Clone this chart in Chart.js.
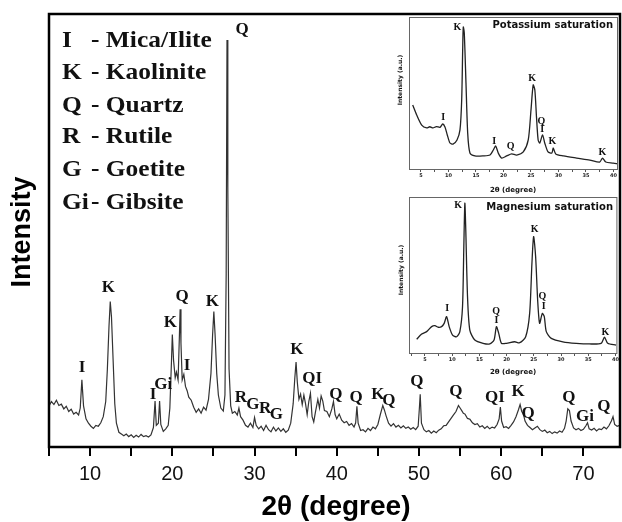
<!DOCTYPE html>
<html><head><meta charset="utf-8">
<script src="https://cdn.jsdelivr.net/npm/chart.js@4/dist/chart.umd.min.js"></script>
<style>
html,body{margin:0;padding:0;background:#fff;}
#wrap{position:relative;width:622px;height:522px;overflow:hidden;}
canvas{position:absolute;}
</style></head>
<body><div id="wrap">
<canvas id="main" width="622" height="522" style="left:0;top:0;width:622px;height:522px"></canvas>
<canvas id="ins1" width="225" height="180" style="left:395px;top:15px;width:225px;height:180px"></canvas>
<canvas id="ins2" width="225" height="185" style="left:395px;top:195px;width:225px;height:185px"></canvas>
</div>
<script>
// ---------- main pattern ----------
const mainTwoTheta = [5.0,5.3,5.6,5.9,6.2,6.5,6.8,7.1,7.4,7.7,8.0,8.3,8.6,8.8,9.0,9.2,9.5,9.8,10.1,10.4,10.7,11.0,11.3,11.6,11.9,12.1,12.3,12.45,12.6,12.8,13.0,13.2,13.5,13.8,14.1,14.4,14.7,15.0,15.3,15.6,15.9,16.2,16.5,16.8,17.1,17.4,17.7,17.9,18.05,18.3,18.45,18.6,18.9,19.2,19.5,19.7,19.9,20.0,20.15,20.35,20.5,20.7,20.85,20.95,21.05,21.2,21.4,21.6,21.8,22.0,22.3,22.6,22.9,23.2,23.5,23.8,24.1,24.4,24.7,24.9,25.05,25.2,25.4,25.6,25.9,26.2,26.4,26.55,26.65,26.75,26.9,27.1,27.3,27.6,27.9,28.1,28.3,28.6,28.9,29.2,29.5,29.8,30.0,30.2,30.5,30.8,31.1,31.4,31.7,32.0,32.3,32.6,32.9,33.2,33.5,33.8,34.1,34.4,34.7,34.9,35.05,35.2,35.4,35.6,35.8,36.0,36.2,36.4,36.6,36.8,37.0,37.2,37.4,37.7,37.9,38.1,38.3,38.5,38.8,39.1,39.4,39.6,39.8,40.0,40.3,40.6,40.9,41.2,41.5,41.8,42.1,42.3,42.45,42.6,42.9,43.2,43.5,43.8,44.1,44.4,44.7,45.0,45.3,45.6,45.8,46.0,46.3,46.6,46.9,47.2,47.5,47.8,48.1,48.4,48.7,49.0,49.3,49.6,49.9,50.05,50.15,50.3,50.6,50.9,51.2,51.5,51.8,52.1,52.4,52.7,53.0,53.3,53.6,53.9,54.2,54.5,54.8,55.0,55.2,55.4,55.6,55.9,56.2,56.5,56.8,57.1,57.4,57.7,58.0,58.3,58.6,58.9,59.2,59.5,59.75,59.9,60.05,60.3,60.6,60.9,61.2,61.5,61.8,62.1,62.3,62.5,62.7,62.9,63.2,63.5,63.8,64.1,64.4,64.7,65.0,65.3,65.6,65.9,66.2,66.5,66.8,67.1,67.4,67.7,67.9,68.1,68.3,68.5,68.8,69.1,69.4,69.7,70.0,70.3,70.5,70.7,71.0,71.3,71.6,71.9,72.2,72.5,72.8,73.1,73.4,73.6,73.8,74.1,74.4];
const mainIntensity = [9.5,10.5,9.8,10.8,9.6,9.9,8.8,9.4,8.2,8.7,7.6,8.0,7.4,9.0,15.5,9.5,6.5,5.5,4.8,4.3,5.0,4.8,5.6,7.0,10.5,18,28,33.6,30,20,10,5.5,3.4,3.0,2.6,3.0,2.4,2.8,2.2,2.7,2.3,2.9,2.4,2.6,2.3,2.8,4.5,10.6,5.0,5.5,10.6,5.2,3.6,4.2,5.0,9,20,26,20,16,17.3,15.5,25,31.8,24,15.5,16.8,14,13.0,11.5,10.8,9.2,8.0,8.8,7.8,9.2,8.5,11,17,26,31.3,26,17,12,9.0,8.3,12,40,94,60,18,9.5,7.8,8.2,7.4,9.0,7.0,6.2,5.0,4.6,5.5,4.5,6.8,5.0,4.2,4.8,3.8,5.0,4.0,3.5,4.6,3.7,4.4,3.6,4.2,3.4,3.9,5.5,10,16,19.6,15,11,12.2,9.8,12.0,10.0,7.5,10.5,12.4,7.0,5.8,8.0,11.0,9.0,11.8,10.6,8.4,8.2,7.0,8.8,10.5,7.5,6.5,7.6,6.2,5.6,5.9,5.0,5.4,4.6,5.6,9.4,5.5,3.8,4.0,3.5,4.3,3.8,4.6,4.2,5.2,7.5,9.6,8.5,7.2,5.5,4.8,5.4,4.6,5.0,4.4,4.9,4.3,4.6,4.1,4.5,4.0,4.8,9,12.2,5.5,4.0,3.5,3.8,3.2,3.7,3.3,3.9,4.2,4.9,5.0,5.8,6.6,7.4,8.2,9.6,9.0,8.4,7.8,7.6,6.6,6.4,5.6,5.2,5.4,4.6,4.9,4.3,4.8,4.2,4.6,4.4,5.2,6.5,9.2,6.0,4.5,4.7,4.3,5.0,5.8,7.0,8.6,9.8,8.2,7.6,6.0,5.0,4.5,4.0,4.4,4.8,4.0,3.6,3.9,3.3,3.6,3.1,3.5,3.2,3.7,3.4,4.3,6.0,8.8,8.4,6.0,4.4,4.0,4.3,3.8,4.1,4.9,5.6,4.2,3.9,4.3,3.7,4.2,4.0,4.6,4.2,4.9,6.0,7.0,5.2,4.8,5.0];

const mainPeakText = ['K','I','I','Gi','K','Q','I','K','Q','R','G','R','G','K','QI','Q','Q','K','Q','Q','Q','QI','K','Q','Q','Gi','Q'];
const mainPeakX    = [12.23,9.03,17.66,18.9,19.76,21.2,21.8,24.87,28.5,28.35,29.8,31.3,32.65,35.16,37.0,39.9,42.35,45.0,46.35,49.75,54.5,59.25,62.05,63.26,68.24,70.2,72.5];
const mainPeakY    = [36.9,18.4,12.2,14.3,28.8,34.8,18.9,33.6,96.5,11.5,9.9,8.8,7.4,22.4,15.7,12.2,11.5,12.2,10.6,15.2,12.9,11.5,12.7,7.6,11.5,7.1,9.4];

const legendAbbr = ['I','K','Q','R','G','Gi'];
const legendName = ['Mica/Ilite','Kaolinite','Quartz','Rutile','Goetite','Gibsite'];

// ---------- inset: potassium saturation ----------
const kTwoTheta = [3.49,4.22,5.13,6.04,6.6,7.18,7.8,8.45,8.95,9.36,9.78,10.27,10.82,11.55,12.09,12.4,12.58,12.69,12.87,13.18,13.49,13.9,14.8,16.3,17.55,18.15,18.58,19.05,19.67,20.58,21.49,22.4,23.6,24.5,25.0,25.4,25.7,26.0,26.3,26.6,27.1,27.5,28.1,28.8,29.05,29.5,30.9,33.3,35.7,37.5,38.0,38.6,39.96,40.8];
const kIntensity = [42.1,35.5,28.9,27.0,27.8,27.0,27.9,27.4,29.6,27.6,22.4,17.1,16.4,19.1,25.7,45.4,78.3,93.4,89.5,56.6,23.7,10.5,8.6,8.6,9.2,12.5,15.1,10.5,7.2,8.6,9.9,9.2,11.2,19.1,38.8,55.3,52.0,34.2,19.1,17.1,22.4,17.1,11.2,10.5,13.8,9.9,8.6,7.2,5.9,4.6,7.2,4.6,3.9,3.3];
const kPeakText = ['K','I','I','Q','K','Q','I','K','K'];
const kPeakX    = [11.6,9.05,18.3,21.3,25.2,26.9,27.05,28.9,38.0];
const kPeakY    = [93.2,34,18,14.7,59.7,31.1,26.3,18,10.7];

// ---------- inset: magnesium saturation ----------
const mgTwoTheta = [3.48,4.40,5.31,6.23,6.83,7.44,8.06,8.53,8.97,9.45,10.07,10.81,11.41,11.9,12.14,12.33,12.5,12.82,13.24,14.16,15.68,16.9,17.69,18.13,18.55,19.05,19.96,21.48,22.4,23.5,24.23,24.65,24.96,25.33,25.7,26.06,26.56,26.92,27.29,28.2,30.33,32.78,35.2,37.36,37.97,38.57,40.1];
const mgIntensity = [8.8,12.2,13.7,16.9,17.5,16.5,16.9,19.0,23.3,16.9,11.5,10.4,13.7,29.7,68.1,96,78.8,36.1,14.7,8.3,6.2,5.8,8.3,16.9,12.6,6.2,6.2,7.2,6.6,10.4,25.4,57.5,74.6,61.7,34,19,25.4,23.3,13.7,9.4,7.2,6.2,5.8,6.2,10.1,6.2,5.1];
const mgPeakText = ['K','I','Q','I','K','Q','I','K'];
const mgPeakX    = [11.1,9.08,18.06,18.13,25.15,26.56,26.8,38.15];
const mgPeakY    = [94.9,28.7,26.5,21.2,79.3,36.5,30.1,13];

function pts(xs, ys){ return xs.map((x,i)=>({x:x, y:ys[i]})); }

function peakLabelPlugin(texts, xs, ys, font){
  return {
    id:'peaks',
    afterDatasetsDraw(chart){
      const c=chart.ctx, sx=chart.scales.x, sy=chart.scales.y;
      c.save(); c.font=font; c.fillStyle='#111'; c.textAlign='center'; c.textBaseline='middle';
      texts.forEach((t,i)=>{ c.fillText(t, sx.getPixelForValue(xs[i]), sy.getPixelForValue(ys[i])); });
      c.restore();
    }
  };
}

function filterTicks(scale){ scale.ticks = scale.ticks.filter(t=>t.value>=scale.min-1e-9 && t.value<=scale.max+1e-9); }

// ---------------- main chart ----------------
const mainDecor = {
  id:'mainDecor',
  afterDraw(chart){
    const c=chart.ctx, a=chart.chartArea;
    c.save();
    c.strokeStyle='#000'; c.lineWidth=2.5;
    c.strokeRect(a.left, a.top, a.right-a.left, a.bottom-a.top);
    // legend text
    c.fillStyle='#111'; c.textBaseline='alphabetic';
    c.font='bold 24px "Liberation Serif"';
    const bases=[47,79,112,143,176,209];
    legendAbbr.forEach((t,i)=>{
      c.save(); c.translate(62,bases[i]); c.scale(1.06,1); c.fillText(t,0,0); c.restore();
      c.save(); c.translate(91,bases[i]); c.scale(1.06,1); c.fillText('- '+legendName[i],0,0); c.restore();
    });
    // axis titles
    c.font='bold 28px "Liberation Sans"'; c.textAlign='center'; c.textBaseline='middle'; c.fillStyle='#000';
    c.fillText('2\u03b8 (degree)', 336, 507);
    c.font='bold 27px "Liberation Sans"';
    c.save(); c.translate(23,232); c.rotate(-Math.PI/2); c.fillText('Intensity',0,0); c.restore();
    c.restore();
  }
};

new Chart(document.getElementById('main'), {
  type:'line',
  data:{ datasets:[{ data: pts(mainTwoTheta, mainIntensity), borderColor:'#333', borderWidth:1.2, pointRadius:0, tension:0, fill:false }]},
  options:{
    responsive:false, animation:false, devicePixelRatio:1,
    layout:{ padding:{ left:49, top:14, right:2, bottom:0 } },
    plugins:{ legend:{display:false}, tooltip:{enabled:false} },
    scales:{
      x:{ type:'linear', min:5, max:74.45,
          afterBuildTicks: filterTicks,
          afterFit(s){ s.height=75; },
          ticks:{ stepSize:5, includeBounds:false, autoSkip:false, maxRotation:0, padding:6,
                  color:'#111', font:{ family:'"Liberation Sans"', size:20 },
                  callback:(v)=> (Math.abs(v%10)<1e-6 ? String(v) : '') },
          grid:{ display:true, drawOnChartArea:false, drawTicks:true, tickLength:9, color:'#000', lineWidth:2 },
          border:{ display:false } },
      y:{ type:'linear', min:0, max:100, display:false }
    }
  },
  plugins:[mainDecor, peakLabelPlugin(mainPeakText, mainPeakX, mainPeakY, 'bold 17px "Liberation Serif"')]
});

// ---------------- insets ----------------
function insetChart(id, xs, ys, xmin, xmax, axisH, title, titleY, texts, px, py, yLabelPos, xTitleY){
  const deco = {
    id:'insetDecor',
    afterDraw(chart){
      const c=chart.ctx, a=chart.chartArea;
      c.save();
      c.strokeStyle='#666'; c.lineWidth=1;
      c.strokeRect(a.left+0.5, a.top+0.5, a.right-a.left-1, a.bottom-a.top);
      c.fillStyle='#111';
      c.font='bold 10px "DejaVu Sans"'; c.textAlign='right'; c.textBaseline='middle';
      c.fillText(title, 218, titleY);
      c.font='bold 7px "DejaVu Sans"'; c.textAlign='center';
      c.fillText('2\u03b8 (degree)', 118, xTitleY);
      c.font='bold 6px "DejaVu Sans"';
      c.save(); c.translate(yLabelPos[0], yLabelPos[1]); c.rotate(-Math.PI/2); c.fillText('Intensity (a.u.)',0,0); c.restore();
      c.restore();
    }
  };
  return new Chart(document.getElementById(id), {
    type:'line',
    data:{ datasets:[{ data: pts(xs, ys), borderColor:'#222', borderWidth:1.3, pointRadius:0, tension:0.25, fill:false }]},
    options:{
      responsive:false, animation:false, devicePixelRatio:1,
      layout:{ padding:{ left:14, top:2, right:2, bottom:0 } },
      plugins:{ legend:{display:false}, tooltip:{enabled:false} },
      scales:{
        x:{ type:'linear', min:xmin, max:xmax,
            afterBuildTicks: filterTicks,
            afterFit(s){ s.height=axisH; },
            ticks:{ stepSize:2.5, includeBounds:false, autoSkip:false, maxRotation:0, padding:1,
                    color:'#222', font:{ family:'"DejaVu Sans"', size:5, weight:'bold' },
                    callback:(v)=> (Math.abs(v%5)<1e-6 ? String(v) : '') },
            grid:{ display:true, drawOnChartArea:false, drawTicks:true, tickLength:3, color:'#555', lineWidth:1 },
            border:{ display:false } },
        y:{ type:'linear', min:0, max:100, display:false }
      }
    },
    plugins:[deco, peakLabelPlugin(texts, px, py, 'bold 10px "Liberation Serif"')]
  });
}

insetChart('ins1', kTwoTheta, kIntensity, 2.82, 40.82, 26, 'Potassium saturation', 10, kPeakText, kPeakX, kPeakY, [5,65], 175);
insetChart('ins2', mgTwoTheta, mgIntensity, 2.07, 40.35, 27, 'Magnesium saturation', 12, mgPeakText, mgPeakX, mgPeakY, [6,75], 177);
</script>
</body></html>
